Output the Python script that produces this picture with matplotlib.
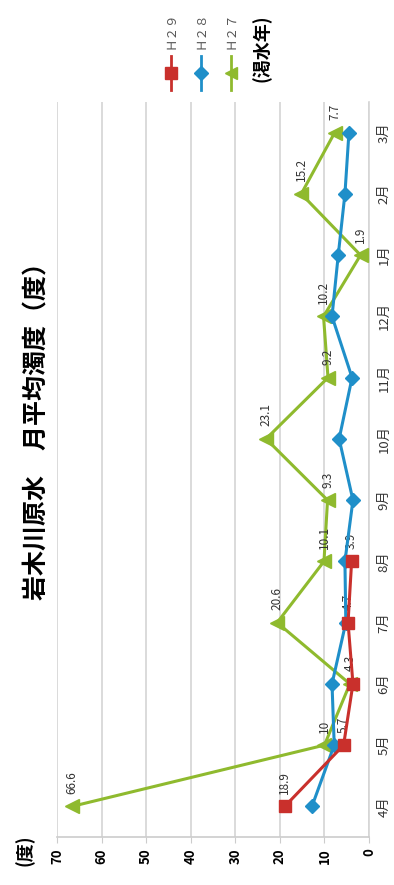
import matplotlib
matplotlib.use("Agg")
import matplotlib.pyplot as plt
from matplotlib.lines import Line2D

plt.rcParams['font.family'] = ['Noto Sans CJK JP', 'DejaVu Sans']

# data (chart is shown rotated 90 deg counter-clockwise)
months = ["4月", "5月", "6月", "7月", "8月", "9月", "10月", "11月", "12月", "1月", "2月", "3月"]
h29 = [18.9, 5.7, 3.6, 4.7, 3.9]
h28 = [12.8, 7.8, 8.3, 5.2, 5.4, 3.6, 6.7, 3.8, 8.3, 6.9, 5.4, 4.5]
h27 = [66.6, 10.0, 4.3, 20.6, 10.1, 9.3, 23.1, 9.2, 10.2, 1.9, 15.2, 7.7]
h29_labels = ["18.9", "5.7", "", "4.7", "3.9"]
h27_labels = ["66.6", "10", "4.3", "20.6", "10.1", "9.3", "23.1", "9.2", "10.2", "1.9", "15.2", "7.7"]
value_ticks = [0, 10, 20, 30, 40, 50, 60, 70]
legend_names = ["Ｈ２９", "Ｈ２８", "Ｈ２７"]

RED = "#c9302c"
BLUE = "#1f8fc9"
GREEN = "#8fba2e"

W, H = 394, 885
fig = plt.figure(figsize=(W / 100, H / 100), dpi=100)
ax = fig.add_axes([57 / W, 1 - 837 / H, 312 / W, 735 / H])

idx = list(range(len(months)))
ax.plot(h27, idx, color=GREEN, lw=2.2, marker="<", ms=10, zorder=3)
ax.plot(h28, idx, color=BLUE, lw=2.2, marker="D", ms=7.5, zorder=4)
ax.plot(h29, idx[:len(h29)], color=RED, lw=2.2, marker="s", ms=9, zorder=5)

for v, i, t in zip(h27, idx, h27_labels):
    ax.annotate(t, (v, i), xytext=(0, 9), textcoords="offset points",
                rotation=90, ha="center", va="bottom", fontsize=8.5, color="#333333")
for v, i, t in zip(h29, idx, h29_labels):
    if t:
        ax.annotate(t, (v, i), xytext=(0, 9), textcoords="offset points",
                    rotation=90, ha="center", va="bottom", fontsize=8.5, color="#333333")

ax.set_xlim(70, 0)
ax.set_ylim(-0.5, len(months) - 0.5)
ax.set_xticks(value_ticks)
ax.set_xticklabels([str(v) for v in value_ticks], rotation=90, fontweight="bold", fontsize=9.5)
ax.set_yticks(idx)
ax.set_yticklabels(months, rotation=90, va="center", fontsize=9.5, color="#333333")
ax.yaxis.tick_right()
ax.tick_params(axis="y", length=0, pad=6)
ax.tick_params(axis="x", length=4, color="#cccccc", pad=4)
ax.grid(axis="x", color="#d8d8d8", lw=1.3)
ax.set_axisbelow(True)
for s in ["left", "top"]:
    ax.spines[s].set_visible(False)
ax.spines["right"].set_color("#d5d5d5")
ax.spines["bottom"].set_color("#cccccc")
ax.spines["right"].set_linewidth(1.2)
ax.spines["bottom"].set_linewidth(1.2)

# title and axis unit
fig.text(38 / W, 1 - 425 / H, "岩木川原水　月平均濁度（度）", rotation=90,
         ha="center", va="center", fontsize=18, fontweight="bold")
fig.text(25 / W, 1 - 850 / H, "(度)", rotation=90, ha="center", va="center",
         fontsize=13, fontweight="bold")

# legend drawn rotated
for k, (name, col, mk) in enumerate(zip(legend_names, [RED, BLUE, GREEN], ["s", "D", "<"])):
    x = (171 + 30 * k) / W
    fig.add_artist(Line2D([x, x], [1 - 90 / H, 1 - 56 / H], color=col, lw=2,
                          transform=fig.transFigure))
    fig.add_artist(Line2D([x], [1 - 73 / H], color=col, marker=mk,
                          ms=8 if mk != "D" else 7, transform=fig.transFigure))
    fig.text(x, 1 - 30 / H, name, rotation=90, ha="center", va="center",
             fontsize=9, color="#555555")
fig.text(262 / W, 1 - 48 / H, "(渇水年)", rotation=90, ha="center", va="center",
         fontsize=13, fontweight="bold")

fig.savefig("out.png", dpi=100, facecolor="white")
